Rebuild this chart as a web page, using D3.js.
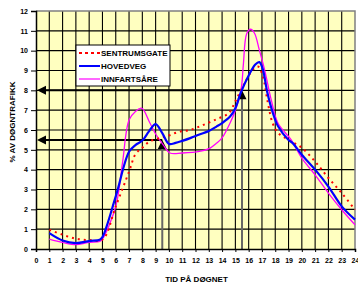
<!DOCTYPE html>
<html>
<head>
<meta charset="utf-8">
<script src="https://cdn.jsdelivr.net/npm/d3@7"></script>
<style>
  body { margin: 0; background: #fff; }
  text { font-family: Arial, "Liberation Sans", sans-serif; font-weight: bold; }
</style>
</head>
<body>
<div id="chart"></div>
<script>
// data: [hour, % of daily traffic]
var sentrumsgate = [[1,0.97],[2,0.72],[3,0.52],[4,0.45],[5,0.47],[6,2.15],[7,3.9],[7.5,4.8],[8,5.1],[8.5,5.4],[9.3,5.59],[10,5.72],[10.7,5.9],[11.6,6.0],[12.6,6.26],[13.6,6.55],[14.5,6.85],[15,7.45],[15.56,8.19],[16.3,9.03],[16.7,9.2],[17.07,8.7],[17.4,7.52],[17.8,6.35],[18.2,5.86],[19,5.5],[20,5.1],[21,4.41],[22,3.58],[23,2.82],[24,1.98]];
var hovedveg = [[1,0.8],[2,0.43],[3,0.3],[4,0.4],[4.8,0.47],[5,0.6],[6,2.65],[7,4.9],[7.5,5.25],[8,5.47],[8.5,5.93],[9,6.3],[9.5,5.84],[10,5.3],[10.5,5.35],[11,5.45],[11.6,5.59],[12,5.7],[13,5.95],[13.6,6.18],[14,6.35],[14.6,6.68],[15,7.1],[15.4,7.87],[16,8.75],[16.5,9.3],[16.8,9.42],[17.05,9.1],[17.4,7.9],[17.8,6.9],[18.2,6.2],[19,5.5],[19.3,5.35],[20,4.75],[21,4.0],[22,3.15],[23,2.15],[24,1.48]];
var innfartsare = [[1,0.5],[2,0.33],[3,0.22],[4,0.33],[4.8,0.38],[5,0.5],[6,2.15],[6.5,4.3],[7,6.5],[7.5,6.95],[7.95,7.1],[8.57,6.35],[9,5.8],[9.57,5.25],[10.08,4.84],[11,4.84],[12.3,4.92],[13.1,5.09],[13.6,5.34],[14,5.6],[14.6,6.35],[15,7.0],[15.44,8.1],[15.6,9.3],[15.85,10.85],[16.14,11.08],[16.44,10.88],[16.8,10.04],[17.2,9.03],[17.7,7.52],[18.2,6.35],[19.2,5.5],[20,4.58],[21,3.74],[22,2.82],[23,1.98],[24,1.22]];

var seriesNames = ["SENTRUMSGATE", "HOVEDVEG", "INNFARTSÅRE"];
var xTicks = d3.range(0, 25);
var yTicks = d3.range(0, 13);
// reading guides: [hour, value]
var guides = [[9.5, 5.5], [15.5, 8]];

var margin = {top: 11, right: 3, bottom: 38, left: 36};
var width = 358 - margin.left - margin.right;
var height = 287 - margin.top - margin.bottom;

var svg = d3.select("#chart")
    .append("svg")
    .attr("width", 358)
    .attr("height", 287)
    .append("g")
    .attr("transform", "translate(" + margin.left + "," + margin.top + ")");

var x = d3.scaleLinear().domain([0, 24]).range([0, width]);
var y = d3.scaleLinear().domain([0, 12]).range([height, 0]);

// plot background
svg.append("rect")
    .attr("width", width)
    .attr("height", height)
    .attr("fill", "#FFFFC0");

// grid
svg.selectAll(".vgrid")
    .data(xTicks.slice(1, -1))
    .enter()
    .append("line")
    .attr("x1", function(d) { return x(d); })
    .attr("x2", function(d) { return x(d); })
    .attr("y1", 0)
    .attr("y2", height)
    .attr("stroke", "#000")
    .attr("stroke-width", 1.1);

svg.selectAll(".hgrid")
    .data(yTicks.slice(1, -1))
    .enter()
    .append("line")
    .attr("x1", 0)
    .attr("x2", width)
    .attr("y1", function(d) { return y(d); })
    .attr("y2", function(d) { return y(d); })
    .attr("stroke", "#000")
    .attr("stroke-width", 1.1);

// gray frame top/right
svg.append("path")
    .attr("d", "M0,0H" + width + "V" + height)
    .attr("fill", "none")
    .attr("stroke", "#808080")
    .attr("stroke-width", 1.5);

// guide lines with arrowheads
guides.forEach(function(g) {
    svg.append("line")
        .attr("x1", x(g[0])).attr("x2", x(g[0]))
        .attr("y1", y(g[1]) + 6).attr("y2", height)
        .attr("stroke", "#666")
        .attr("stroke-width", 2);
    svg.append("line")
        .attr("x1", 6).attr("x2", x(g[0]))
        .attr("y1", y(g[1])).attr("y2", y(g[1]))
        .attr("stroke", "#000")
        .attr("stroke-width", 2);
    svg.append("path")
        .attr("d", "M" + x(g[0]) + "," + y(g[1]) + "l-4.5,9h9z")
        .attr("fill", "#000");
    svg.append("path")
        .attr("d", "M1," + y(g[1]) + "l9,-4.5v9z")
        .attr("fill", "#000");
});

var line = d3.line()
    .curve(d3.curveCatmullRom.alpha(0.5))
    .x(function(d) { return x(d[0]); })
    .y(function(d) { return y(d[1]); });

svg.append("path")
    .attr("d", line(innfartsare))
    .attr("fill", "none")
    .attr("stroke", "#FF00FF")
    .attr("stroke-width", 1.3);

svg.append("path")
    .attr("d", line(sentrumsgate))
    .attr("fill", "none")
    .attr("stroke", "#FF0000")
    .attr("stroke-width", 2)
    .attr("stroke-dasharray", "2,4");

svg.append("path")
    .attr("d", line(hovedveg))
    .attr("fill", "none")
    .attr("stroke", "#0000FF")
    .attr("stroke-width", 2.2);

// axes
svg.append("g")
    .call(d3.axisLeft(y).tickValues(yTicks).tickSize(5).tickPadding(3))
    .call(function(g) {
        g.select(".domain").attr("stroke", "#000").attr("stroke-width", 1.5);
        g.selectAll("text").style("font-size", "7px").attr("fill", "#000");
    });

svg.append("g")
    .attr("transform", "translate(0," + height + ")")
    .call(d3.axisBottom(x).tickValues(xTicks).tickSize(3).tickPadding(6))
    .call(function(g) {
        g.select(".domain").attr("stroke", "#000").attr("stroke-width", 1.5);
        g.selectAll("text").style("font-size", "7px").attr("fill", "#000");
    });

svg.append("text")
    .attr("x", width / 2 + 1)
    .attr("y", height + 33)
    .attr("text-anchor", "middle")
    .style("font-size", "8px")
    .text("TID PÅ DØGNET");

svg.append("text")
    .attr("transform", "translate(-21," + (height / 2 - 8) + ") rotate(-90)")
    .attr("text-anchor", "middle")
    .style("font-size", "8px")
    .text("% AV DØGNTRAFIKK");

// legend
var legend = svg.append("g")
    .attr("transform", "translate(40,34)");

legend.append("rect")
    .attr("width", 94)
    .attr("height", 41)
    .attr("fill", "#fff")
    .attr("stroke", "#000")
    .attr("stroke-width", 1);

var legendStyles = [
    {color: "#FF0000", w: 2, dash: "3,3"},
    {color: "#0000FF", w: 2, dash: null},
    {color: "#FF00FF", w: 1.2, dash: null}
];

seriesNames.forEach(function(name, i) {
    var ly = 8 + i * 13;
    legend.append("line")
        .attr("x1", 3).attr("x2", 24)
        .attr("y1", ly).attr("y2", ly)
        .attr("stroke", legendStyles[i].color)
        .attr("stroke-width", legendStyles[i].w)
        .attr("stroke-dasharray", legendStyles[i].dash);
    legend.append("text")
        .attr("x", 25)
        .attr("y", ly + 3)
        .style("font-size", "8px")
        .text(name);
});
</script>
</body>
</html>
